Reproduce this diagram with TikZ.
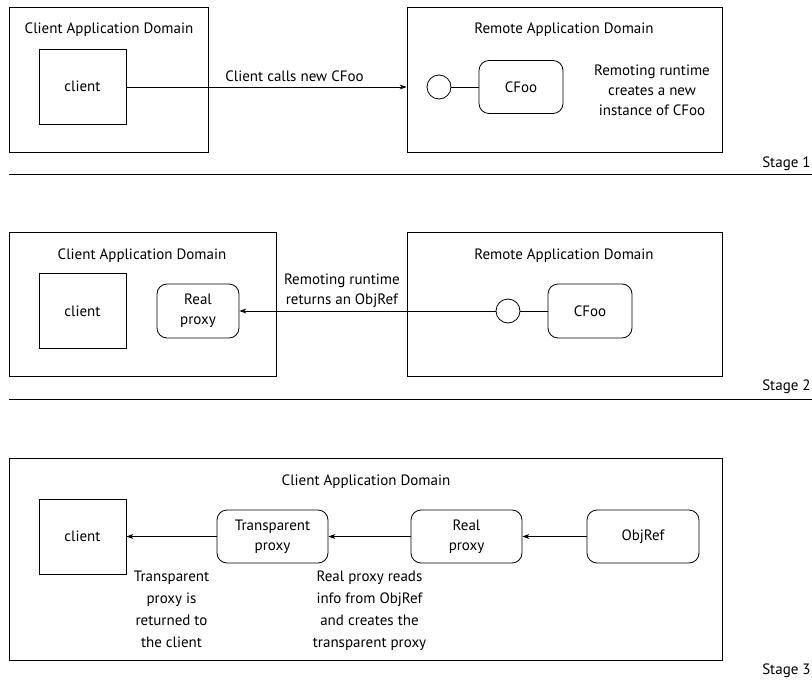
\documentclass[tikz,border=0pt]{standalone}
\usepackage{fontspec}
\setmainfont{PT Sans}
\usetikzlibrary{positioning, arrows.meta}

\begin{document}
\begin{tikzpicture}[x=1pt, y=-1pt, line width=0.8pt,
  every node/.style={font=\fontsize{15}{20}\selectfont},
  domainbox/.style={draw, inner sep=0pt},
  clientbox/.style={draw, inner sep=0pt, minimum width=87pt, minimum height=75pt},
  objbox/.style={draw, rounded corners=10pt, inner sep=0pt, align=center,
    minimum height=53pt},
  port/.style={draw, circle, inner sep=0pt, minimum size=24pt},
  flow/.style={-{Stealth[length=7pt, width=5pt]}},
  lbl/.style={align=center},
  stagelbl/.style={anchor=base east, inner xsep=0pt}]
\useasboundingbox (0,0) rectangle (812,680);

% Stage 1
\node[domainbox, minimum width=199pt, minimum height=145pt] (cad1) at (108.5,79.5) {};
\node[anchor=base] (cadtitle1) at (109,34) {Client Application Domain};
\node[clientbox] (client1) at (82.5,86.5) {client};
\node[domainbox, minimum width=315pt, minimum height=145pt] (rad1) at (564.5,79.5) {};
\node[anchor=base] (radtitle1) at (564,34) {Remote Application Domain};
\node[port] (port1) at (439,87) {};
\node[objbox, minimum width=84pt] (cfoo1) at (521,87) {CFoo};
\node[lbl] (note1) at (652,90) {Remoting runtime\\creates a new\\instance of CFoo};
\draw[flow] (client1.east |- port1) -- node[pos=0.6, above, yshift=2pt] {Client calls new CFoo}
  (rad1.west |- port1);
\draw (port1) -- (cfoo1);
\node[stagelbl] (stage1) at (811,167) {Stage 1};
\draw (9,174) -- (812,174);

% Stage 2
\node[domainbox, minimum width=267pt, minimum height=144pt] (cad2) at (142.5,304) {};
\node[anchor=base] (cadtitle2) at (142,259) {Client Application Domain};
\node[clientbox] (client2) at (82.5,311) {client};
\node[objbox, minimum width=82pt, minimum height=54pt] (real2) at (198,311) {Real\\proxy};
\node[domainbox, minimum width=315pt, minimum height=144pt] (rad2) at (564.5,304) {};
\node[anchor=base] (radtitle2) at (564,259) {Remote Application Domain};
\node[port] (port2) at (508,311) {};
\node[objbox, minimum width=84pt, minimum height=54pt] (cfoo2) at (590,311) {CFoo};
\draw[flow] (port2) -- node[pos=0.6, above, lbl] {Remoting runtime\\returns an ObjRef} (real2);
\draw (port2) -- (cfoo2);
\node[stagelbl] (stage2) at (811,390) {Stage 2};
\draw (9,399) -- (812,399);

% Stage 3
\node[domainbox, minimum width=713pt, minimum height=202pt] (cad3) at (365.5,559) {};
\node[anchor=base] (cadtitle3) at (366,485) {Client Application Domain};
\node[clientbox] (client3) at (82.5,536.5) {client};
\node[objbox, minimum width=111pt] (trans3) at (272.5,536.5) {Transparent\\proxy};
\node[objbox, minimum width=111pt] (real3) at (466.5,536.5) {Real\\proxy};
\node[objbox, minimum width=112pt] (objref3) at (643,536.5) {ObjRef};
\draw[flow] (objref3) -- (real3);
\draw[flow] (real3) -- node[below=31pt, lbl, font=\fontsize{15}{22}\selectfont]
  {Real proxy reads\\info from ObjRef\\and creates the\\transparent proxy} (trans3);
\draw[flow] (trans3) -- node[below=31pt, lbl, font=\fontsize{15}{22}\selectfont]
  {Transparent\\proxy is\\returned to\\the client} (client3);
\node[stagelbl] (stage3) at (811,674) {Stage 3};
\end{tikzpicture}
\end{document}
